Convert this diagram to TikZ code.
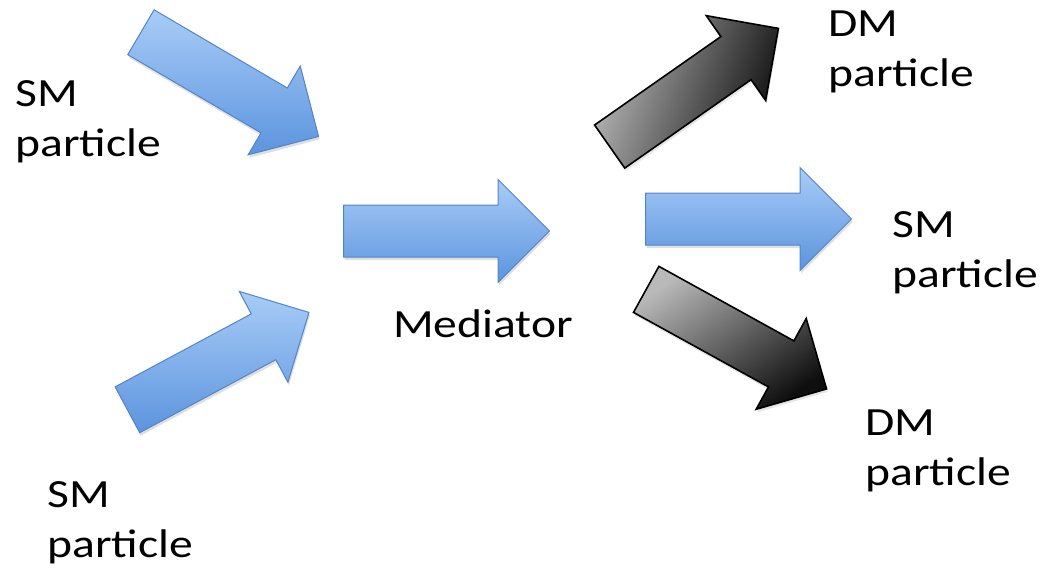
\documentclass[tikz,border=0pt]{standalone}
\usepackage{fontspec}
\setmainfont{Carlito}
\usetikzlibrary{shapes.arrows}
\usetikzlibrary{shadows}
\usepackage{xcolor}

\definecolor{smtop}{RGB}{168,204,247}
\definecolor{smbot}{RGB}{92,148,222}
\definecolor{smline}{RGB}{84,132,200}
\definecolor{dmtop}{RGB}{185,185,185}
\definecolor{dmbot}{RGB}{15,15,15}

\tikzset{
  fat arrow/.style={single arrow, anchor=tail, inner xsep=0pt, inner ysep=25.5pt, minimum width=102pt,
    minimum height=206pt, single arrow head extend=25.5pt, single arrow tip angle=90},
  smarrow/.style={fat arrow, draw=smline, line width=1pt, top color=smtop, bottom color=smbot,
    drop shadow={opacity=.25, shadow xshift=1pt, shadow yshift=-3pt}},
  dmarrow/.style={fat arrow, draw=black, line width=1.6pt, top color=dmtop, bottom color=dmbot,
    shading angle=#1, drop shadow={opacity=.2, shadow xshift=1pt, shadow yshift=-3pt}},
  lbl/.style={anchor=base west, align=left, inner sep=0pt, xscale=1.19,
    font=\fontsize{40}{50}\selectfont}
}

\begin{document}
\begin{tikzpicture}[x=1pt,y=-1pt]
\useasboundingbox (0,0) rectangle (1040,573);
% incoming SM arrows, placed by their tails
\node[smarrow, rotate=-30.4] (smin1) at (140.5,32) {};
\node[smarrow, rotate=28.2] (smin2) at (127,410) {};
\node[smarrow] (med) at (343,231) {};
% outgoing arrows
\node[dmarrow=70, rotate=35] (dmout1) at (609,147) {};
\node[smarrow] (smout) at (645,219) {};
\node[dmarrow=35, rotate=-28.9] (dmout2) at (645.5,289) {};
% labels (base = last line)
\node[lbl] (lsmin1) at (15,156) {SM\\particle};
\node[lbl] (lsmin2) at (47,557) {SM\\particle};
\node[lbl] (lmed) at (393,337) {Mediator};
\node[lbl] (ldm1) at (828,86) {DM\\particle};
\node[lbl] (lsmout) at (892,287) {SM\\particle};
\node[lbl] (ldm2) at (865,485) {DM\\particle};
\end{tikzpicture}
\end{document}
